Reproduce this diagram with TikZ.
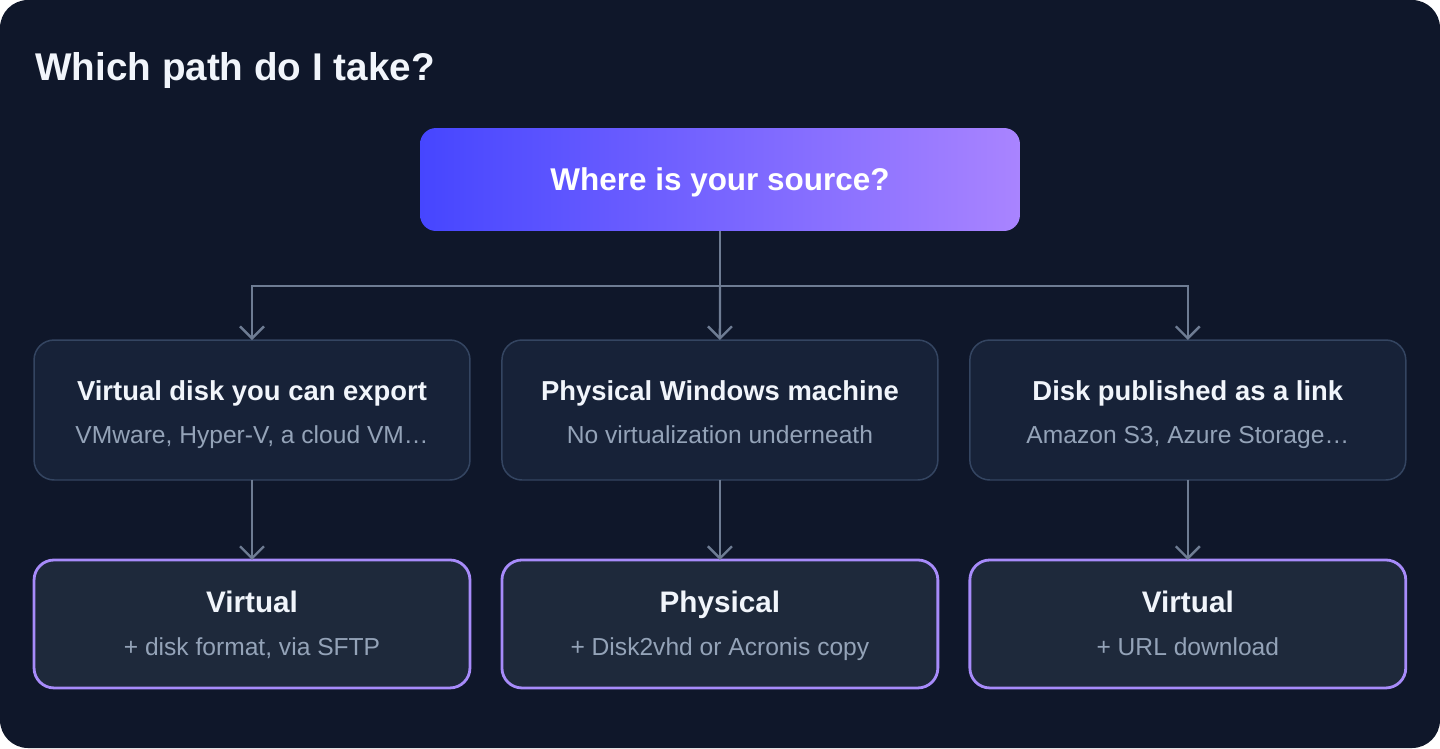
\documentclass[tikz,border=0pt]{standalone}
\usepackage{fontspec}
\setmainfont{Liberation Sans}
\usetikzlibrary{arrows.meta,positioning}
\definecolor{PageNavy}{HTML}{0F172A}
\definecolor{CardNavy}{HTML}{172238}
\definecolor{CardEdge}{HTML}{344561}
\definecolor{ResultNavy}{HTML}{1E293B}
\definecolor{ResultViolet}{HTML}{A78BFA}
\definecolor{SourceBlue}{HTML}{4646FF}
\definecolor{SourceLilac}{HTML}{A984FF}
\definecolor{LinkGrey}{HTML}{6E7C93}
\definecolor{TextWhite}{HTML}{F1F5FB}
\definecolor{TextMuted}{HTML}{94A3B8}

\begin{document}
\begin{tikzpicture}[
  x=0.02cm, y=-0.02cm,
  node distance=0.64cm,
  srcbox/.style={
    rounded corners=0.32cm,
    left color=SourceBlue,
    right color=SourceLilac,
    minimum width=12cm,
    minimum height=2.06cm,
    text=white,
    text depth=0pt,
    font=\bfseries\fontsize{17.9}{21}\selectfont
  },
  choice/.style={
    rounded corners=0.4cm,
    draw=CardEdge,
    line width=0.85pt,
    outer sep=0pt,
    fill=CardNavy,
    minimum width=8.72cm,
    minimum height=2.8cm
  },
  result/.style={
    choice,
    draw=ResultViolet,
    line width=1.6pt,
    fill=ResultNavy,
    minimum height=2.56cm
  },
  head/.style={anchor=base,inner sep=0,text=TextWhite,font=\bfseries\fontsize{15.6}{19}\selectfont},
  bighead/.style={head,font=\bfseries\fontsize{16.9}{20}\selectfont},
  sub/.style={anchor=base,inner sep=0,text=TextMuted,font=\fontsize{14}{17}\selectfont},
  arrow/.style={-{Straight Barb[length=2.4mm,width=4.8mm]},line width=1.35pt,draw=LinkGrey}
]
  \fill[PageNavy,rounded corners=0.56cm] (0,0) rectangle (1440,748);
  \useasboundingbox (0,0) rectangle (1440,748);

  \node[anchor=base west,inner sep=0,text=TextWhite,
        font=\bfseries\fontsize{22}{26}\selectfont] (heading) at (35,80) {Which path do I take?};

  \node[srcbox] (src) at (720,179.5) {Where is your source?};

  % what the source is
  \node[choice] (vdisk) at (252,410) {};
  \node[choice,right=of vdisk] (phys) {};
  \node[choice,right=of phys] (link) {};

  \node[head] (vdisk-t) at ([yshift=0.2cm]vdisk.center) {Virtual disk you can export};
  \node[sub] (vdisk-s) at ([yshift=-0.66cm]vdisk.center) {VMware, Hyper-V, a cloud VM…};
  \node[head] (phys-t) at ([yshift=0.2cm]phys.center) {Physical Windows machine};
  \node[sub] (phys-s) at ([yshift=-0.66cm]phys.center) {No virtualization underneath};
  \node[head] (link-t) at ([yshift=0.2cm]link.center) {Disk published as a link};
  \node[sub] (link-s) at ([yshift=-0.66cm]link.center) {Amazon S3, Azure Storage…};

  % which path to take
  \node[result,below=1.6cm of vdisk] (vres) {};
  \node[result,below=1.6cm of phys] (pres) {};
  \node[result,below=1.6cm of link] (lres) {};

  \node[bighead] (vres-t) at ([yshift=0.22cm]vres.center) {Virtual};
  \node[sub] (vres-s) at ([yshift=-0.64cm]vres.center) {+ disk format, via SFTP};
  \node[bighead] (pres-t) at ([yshift=0.22cm]pres.center) {Physical};
  \node[sub] (pres-s) at ([yshift=-0.64cm]pres.center) {+ Disk2vhd or Acronis copy};
  \node[bighead] (lres-t) at ([yshift=0.22cm]lres.center) {Virtual};
  \node[sub] (lres-s) at ([yshift=-0.64cm]lres.center) {+ URL download};

  \coordinate (split) at (720,286);
  \draw[LinkGrey,line width=1.35pt] (src.south) -- (split);
  \draw[arrow] (split) -| (vdisk.north);
  \draw[arrow] (split) -- (phys.north);
  \draw[arrow] (split) -| (link.north);

  \draw[arrow] (vdisk) -- (vres);
  \draw[arrow] (phys) -- (pres);
  \draw[arrow] (link) -- (lres);
\end{tikzpicture}
\end{document}
